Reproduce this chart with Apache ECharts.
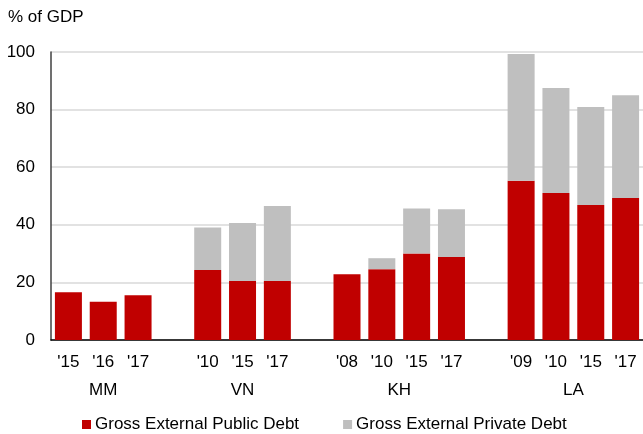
<!DOCTYPE html>
<html>
<head>
<meta charset="utf-8">
<script src="https://cdn.jsdelivr.net/npm/echarts@6/dist/echarts.min.js"></script>
<style>
  html, body { margin: 0; padding: 0; background: #fff; }
  #chart { width: 643px; height: 434px; }
</style>
</head>
<body>
<div id="chart"></div>
<script>
// Year slots per country; empty strings are spacer slots between country groups
const years = ["'15", "'16", "'17", "", "'10", "'15", "'17", "", "'08", "'10", "'15", "'17", "", "'09", "'10", "'15", "'17"];
const countries = ["MM", "VN", "KH", "LA"];
// First and last slot index of each country group
const countrySlots = [[0, 2], [4, 6], [8, 11], [13, 16]];

// Gross external debt, % of GDP
const publicDebt = [16.6, 13.3, 15.5, null, 24.3, 20.5, 20.5, null, 22.8, 24.6, 30.0, 28.8, null, 55.3, 51.0, 46.9, 49.3];
const privateDebt = [null, null, null, null, 14.8, 20.1, 26.0, null, null, 3.8, 15.7, 16.6, null, 44.0, 36.5, 34.0, 35.7];

const yTicks = { min: 0, max: 100, interval: 20 };

const FONT = 'Liberation Sans, Arial, sans-serif';
const FS = 17;
const chart = echarts.init(document.getElementById('chart'));

chart.setOption({
  animation: false,
  textStyle: { fontFamily: FONT },
  grid: { left: 51, top: 52, width: 594, bottom: 94, containLabel: false },
  legend: {
    left: 77,
    top: 411,
    itemWidth: 9,
    itemHeight: 9,
    itemGap: 44,
    icon: 'rect',
    textStyle: { fontFamily: FONT, fontSize: FS, color: '#000', padding: [0, 0, 0, -1] },
    data: ['Gross External Public Debt', 'Gross External Private Debt']
  },
  xAxis: {
    type: 'category',
    data: years,
    axisLine: { lineStyle: { color: '#000', width: 1.5 } },
    axisTick: { show: false },
    axisLabel: { color: '#000', fontSize: FS, margin: 14, interval: 0 }
  },
  yAxis: {
    type: 'value',
    min: yTicks.min,
    max: yTicks.max,
    interval: yTicks.interval,
    name: '% of GDP',
    nameLocation: 'end',
    nameGap: 0,
    nameTextStyle: { color: '#000', fontSize: FS, align: 'left', padding: [0, 0, 26, -43] },
    axisLine: { show: true, lineStyle: { color: '#404040', width: 1.5 } },
    axisTick: { show: false },
    axisLabel: { color: '#000', fontSize: FS, margin: 16 },
    splitLine: { lineStyle: { color: '#d9d9d9', width: 1.5 } }
  },
  series: [
    {
      name: 'Gross External Public Debt',
      type: 'bar',
      stack: 'debt',
      barWidth: 27,
      itemStyle: { color: '#c00000' },
      data: publicDebt
    },
    {
      name: 'Gross External Private Debt',
      type: 'bar',
      stack: 'debt',
      barWidth: 27,
      itemStyle: { color: '#bfbfbf' },
      data: privateDebt
    }
  ]
});

// Country names centred under each group of year labels
const baseY = chart.convertToPixel({ yAxisIndex: 0 }, 0);
chart.setOption({
  graphic: countries.map((name, i) => {
    const [a, b] = countrySlots[i];
    const x = (chart.convertToPixel({ xAxisIndex: 0 }, a) + chart.convertToPixel({ xAxisIndex: 0 }, b)) / 2;
    return {
      type: 'text',
      x: x,
      y: baseY + 50,
      style: { text: name, fill: '#000', font: FS + 'px ' + FONT, align: 'center', verticalAlign: 'middle' }
    };
  })
});
</script>
</body>
</html>
